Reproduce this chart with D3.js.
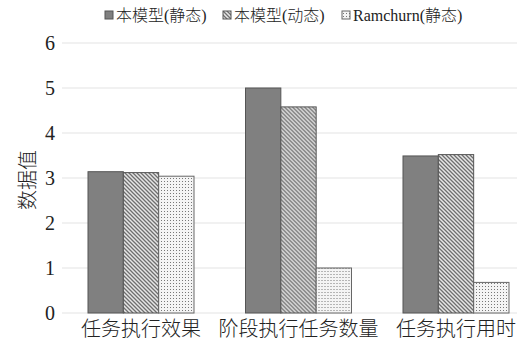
<!DOCTYPE html>
<html>
<head>
<meta charset="utf-8">
<script src="https://cdn.jsdelivr.net/npm/d3@7"></script>
<style>
  html, body { margin: 0; padding: 0; background: #fff; }
  svg { display: block; }
</style>
</head>
<body>
<svg id="chart" width="528" height="349"></svg>
<script>
// Chart data
const categories = ["任务执行效果", "阶段执行任务数量", "任务执行用时"];
const seriesNames = ["本模型(静态)", "本模型(动态)", "Ramchurn(静态)"];
const staticModel = [3.14, 5.0, 3.49];
const dynamicModel = [3.12, 4.58, 3.52];
const ramchurnStatic = [3.04, 1.0, 0.68];
const yTicks = [0, 1, 2, 3, 4, 5, 6];

const seriesValues = [staticModel, dynamicModel, ramchurnStatic];
const fills = ["#808080", "url(#hatch)", "url(#dots)"];
const strokes = ["#555", "#555", "#666"];

const svg = d3.select("#chart");
const serif = "'Liberation Serif', 'Times New Roman', 'Noto Sans CJK SC', serif";

// Fill patterns
const defs = svg.append("defs");
const hatch = defs.append("pattern")
  .attr("id", "hatch").attr("patternUnits", "userSpaceOnUse")
  .attr("width", 4).attr("height", 4);
hatch.append("rect").attr("width", 4).attr("height", 4).attr("fill", "#e6e6e6");
hatch.append("path").attr("d", "M-1,-1 L5,5 M-1,3 L1,5 M3,-1 L5,1")
  .attr("stroke", "#6f6f6f").attr("stroke-width", 1.3);

const dots = defs.append("pattern")
  .attr("id", "dots").attr("patternUnits", "userSpaceOnUse")
  .attr("width", 3).attr("height", 3);
dots.append("rect").attr("width", 3).attr("height", 3).attr("fill", "#f4f4f4");
dots.append("rect").attr("x", 1).attr("y", 1).attr("width", 1).attr("height", 1).attr("fill", "#777");

// Scales
const y = d3.scaleLinear().domain([0, 6]).range([313, 43]);
const x0 = d3.scaleBand().domain(categories)
  .range([62.25, 534.75]).paddingInner(0.327).paddingOuter(0.1635);
const x1 = d3.scaleBand().domain(d3.range(seriesNames.length))
  .range([0, x0.bandwidth()]);

// Gridlines
svg.append("g").selectAll("line").data(yTicks).join("line")
  .attr("x1", 62).attr("x2", 517)
  .attr("y1", d => y(d)).attr("y2", d => y(d))
  .attr("stroke", "#e3e3e3").attr("stroke-width", 1);

// Y axis labels
const yAxis = svg.append("g").attr("transform", "translate(62,0)")
  .call(d3.axisLeft(y).tickValues(yTicks).tickSize(0).tickPadding(7).tickFormat(d3.format("d")));
yAxis.select(".domain").remove();
yAxis.selectAll("text").attr("font-family", serif).attr("font-size", 20).attr("fill", "#222");

// Y title
svg.append("text")
  .attr("transform", "translate(35,180) rotate(-90)")
  .attr("text-anchor", "middle")
  .attr("font-family", serif).attr("font-size", 20).attr("font-weight", 300).attr("fill", "#222")
  .text("数据值");

// Bars
const groups = svg.append("g").selectAll("g").data(categories).join("g")
  .attr("transform", d => `translate(${x0(d)},0)`);
groups.selectAll("rect")
  .data((c, ci) => seriesValues.map((vals, si) => ({ si, v: vals[ci] })))
  .join("rect")
  .attr("x", d => x1(d.si))
  .attr("width", x1.bandwidth())
  .attr("y", d => y(d.v))
  .attr("height", d => y(0) - y(d.v))
  .attr("fill", d => fills[d.si])
  .attr("stroke", d => strokes[d.si])
  .attr("stroke-width", 1);

// X axis labels
const xAxis = svg.append("g").attr("transform", "translate(0,313)")
  .call(d3.axisBottom(x0).tickSize(0).tickPadding(8));
xAxis.select(".domain").remove();
xAxis.selectAll("text").attr("font-family", serif).attr("font-size", 20).attr("font-weight", 300).attr("fill", "#222")
  .attr("dy", "0.75em");

// Legend
const legendX = [105, 223, 342];
const legend = svg.append("g").selectAll("g").data(seriesNames).join("g")
  .attr("transform", (d, i) => `translate(${legendX[i]},15)`);
legend.append("rect")
  .attr("x", 0).attr("y", -4).attr("width", 8).attr("height", 8)
  .attr("fill", (d, i) => fills[i]).attr("stroke", (d, i) => strokes[i]).attr("stroke-width", 1);
legend.append("text")
  .attr("x", 11).attr("y", 0).attr("dy", "0.35em")
  .attr("font-family", serif).attr("font-size", 16).attr("font-weight", 300).attr("fill", "#222")
  .text(d => d);
</script>
</body>
</html>
